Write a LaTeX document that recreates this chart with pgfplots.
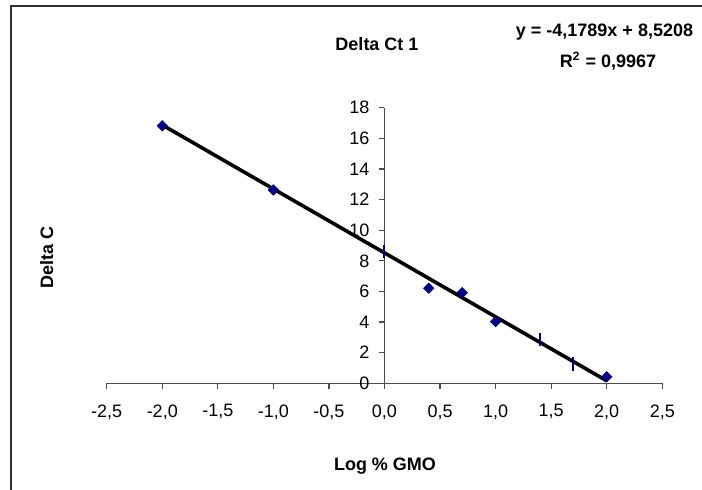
\documentclass[border=0pt]{standalone}
\usepackage{fontspec}
\setmainfont{Liberation Sans}
\usepackage{pgfplots}
\pgfplotsset{compat=1.18}
\definecolor{navy}{RGB}{0,0,128}
\begin{document}
\fontsize{9pt}{11pt}\selectfont
\begin{tikzpicture}
\begin{scope}[x=0.5pt,y=0.5pt]
\path[use as bounding box] (0,0) rectangle (702,490);
\draw[line width=0.9pt, black!80] (11,0) -- (11,484) -- (702,484);
\node[font=\bfseries, anchor=base] at (377,439) {Delta Ct 1};
\node[font=\bfseries, anchor=base] at (604.5,453) {y = -4,1789x + 8,5208};
\node[font=\bfseries, anchor=base] at (608,422) {R\textsuperscript{2} = 0,9967};
\node[font=\bfseries, anchor=base] at (385,19) {Log \% GMO};
\node[font=\bfseries, anchor=base, rotate=90] at (53,232) {Delta C};
\end{scope}
\begin{axis}[
  at={(53.35pt,53.35pt)}, anchor=south west,
  scale only axis, width=277.8pt, height=137.75pt,
  xmin=-2.5, xmax=2.5, ymin=0, ymax=18,
  axis lines=middle,
  axis line style={-, black!70, line width=0.6pt},
  every tick/.style={black!70, line width=0.6pt},
  hide obscured x ticks=false, hide obscured y ticks=false,
  xtick={-2.5,-2,...,2.5}, ytick={0,2,...,18},
  minor tick num=0,
  tick align=center, major tick length=2.8pt,
  xtick style={yshift=-1.4pt}, ytick style={xshift=-1.4pt},
  /pgf/number format/assume math mode=true,
  xticklabel style={/pgf/number format/.cd, fixed, fixed zerofill, precision=1, use comma, /tikz/.cd, font=\fontsize{9pt}{11pt}\selectfont, yshift=-6pt},
  yticklabel style={font=\fontsize{9pt}{11pt}\selectfont, xshift=-3pt},
  clip=false,
]
\addplot[only marks, mark=square*, mark size=1.8pt, mark options={rotate=45, fill=navy, draw=navy}]
 coordinates {(-2,16.82) (-1,12.63) (0.398,6.21) (0.699,5.92) (1,4.03) (2,0.43)};
\addplot[only marks, mark=|, mark size=3.3pt, mark options={draw=navy, line width=1pt}]
 coordinates {(0,8.6) (1.398,2.88) (1.699,1.26)};
\addplot[black, line width=1.8pt] coordinates {(-2,16.8786) (2,0.163)};
\end{axis}
\end{tikzpicture}
\end{document}
